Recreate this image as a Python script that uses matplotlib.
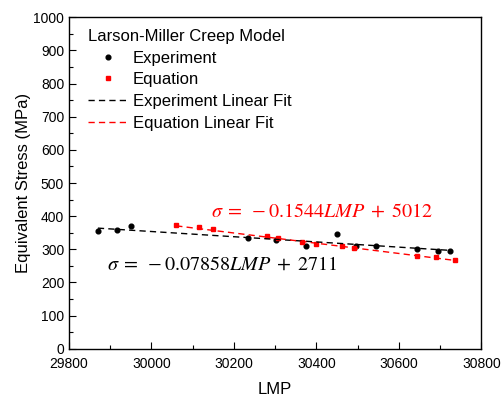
import numpy as np
import matplotlib.pyplot as plt
from matplotlib.ticker import MultipleLocator

plt.rcParams['font.family'] = ['Liberation Sans', 'DejaVu Sans']
plt.rcParams['mathtext.fontset'] = 'stix'

# Experiment points (LMP, stress in MPa)
lmp_exp = np.array([29870, 29917, 29950, 30235, 30302, 30374,
                    30451, 30496, 30545, 30643, 30695, 30724])
stress_exp = np.array([356, 358, 370, 333, 329, 311,
                       345, 311, 310, 301, 295, 295])

# Points computed from the creep equation
lmp_eq = np.array([30060, 30116, 30148, 30280, 30307, 30366,
                   30398, 30462, 30492, 30643, 30690, 30737])
stress_eq = np.array([373, 366, 361, 339, 333, 322,
                      317, 309, 304, 281, 276, 268])

# Linear fit coefficients
slope_exp, icpt_exp = -0.07858, 2711
slope_eq, icpt_eq = -0.1544, 5012

fig = plt.figure(figsize=(5.02, 3.98), dpi=100)
ax = fig.add_axes([0.1375, 0.1239, 0.8213, 0.8326])

ax.plot(lmp_exp, stress_exp, 'o', color='black', ms=3.4, label='Experiment')
ax.plot(lmp_eq, stress_eq, 's', color='red', ms=3.2, label='Equation')

xe = np.array([lmp_exp.min(), lmp_exp.max()])
ax.plot(xe, slope_exp * xe + icpt_exp, color='black', lw=1, dashes=(4.5, 3),
        label='Experiment Linear Fit')
xq = np.array([lmp_eq.min(), lmp_eq.max()])
ax.plot(xq, slope_eq * xq + icpt_eq, color='red', lw=1, dashes=(4.5, 3),
        label='Equation Linear Fit')

ax.text(30413, 415, r'$\sigma\;=\;-0.1544LMP\;+\;5012$', color='red',
        fontsize=14.5, ha='center', va='center')
ax.text(30173, 256, r'$\sigma\;=\;-0.07858LMP\;+\;2711$', color='black',
        fontsize=14.5, ha='center', va='center')

ax.set_xlim(29800, 30800)
ax.set_ylim(0, 1000)
ax.xaxis.set_major_locator(MultipleLocator(200))
ax.xaxis.set_minor_locator(MultipleLocator(100))
ax.yaxis.set_major_locator(MultipleLocator(100))
ax.yaxis.set_minor_locator(MultipleLocator(50))
ax.tick_params(which='both', direction='in', labelsize=10, width=0.8)
ax.tick_params(which='major', length=5)
ax.tick_params(which='minor', length=3)
ax.tick_params(axis='x', pad=6)
for s in ax.spines.values():
    s.set_linewidth(1.0)

ax.set_xlabel('LMP', fontsize=12, labelpad=8)
ax.set_ylabel('Equivalent Stress (MPa)', fontsize=12, labelpad=2)

leg = ax.legend(title='Larson-Miller Creep Model', loc='upper left',
                bbox_to_anchor=(0.018, 1.0), frameon=False, fontsize=12,
                title_fontsize=12, alignment='left', handlelength=2.4,
                handletextpad=0.3, labelspacing=0.4, borderpad=0.2)

fig.savefig('out.png', dpi=100)
